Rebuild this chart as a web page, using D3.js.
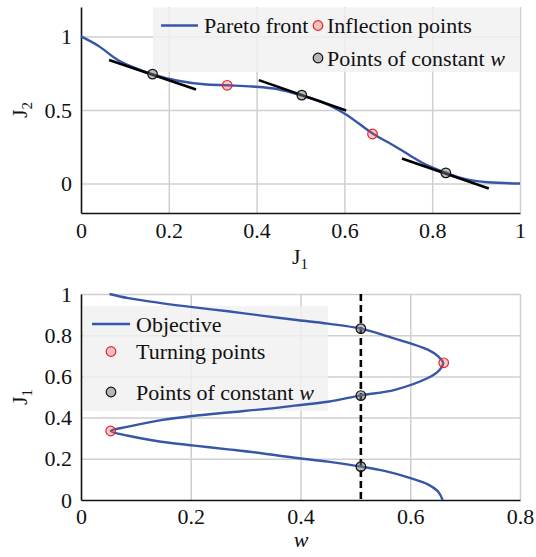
<!DOCTYPE html>
<html><head><meta charset="utf-8">
<script src="https://cdn.jsdelivr.net/npm/d3@7"></script>
<style>
body{margin:0;background:#fff;}
</style></head>
<body><svg id="c" width="536" height="557"></svg>
<script>
// ---- Top panel: Pareto front ----
const frontJ1 = [0, 0.04, 0.084, 0.12, 0.162, 0.221, 0.28, 0.333, 0.39, 0.449, 0.5, 0.563, 0.601, 0.667, 0.715, 0.752, 0.79, 0.833, 0.874, 0.927, 1];
const frontJ2 = [1, 0.935, 0.84, 0.79, 0.744, 0.699, 0.675, 0.668, 0.66, 0.641, 0.601, 0.537, 0.475, 0.335, 0.254, 0.186, 0.122, 0.072, 0.032, 0.009, 0];
const inflJ1 = [0.333, 0.664];
const inflJ2 = [0.668, 0.337];
const constJ1 = [0.163, 0.503, 0.831];
const constJ2 = [0.744, 0.601, 0.073];
const tanX0 = [0.064, 0.405, 0.731];
const tanY0 = [0.84, 0.703, 0.170];
const tanX1 = [0.262, 0.604, 0.929];
const tanY1 = [0.64, 0.497, -0.034];
const topXTicks = [0, 0.2, 0.4, 0.6, 0.8, 1];
const topYTicks = [0, 0.5, 1];

// ---- Bottom panel: objective w vs J1 ----
const objJ1 = [0, 0.040, 0.076, 0.105, 0.141, 0.162, 0.186, 0.205, 0.227, 0.246, 0.264, 0.283, 0.312, 0.335, 0.356, 0.388, 0.409, 0.425, 0.440, 0.458, 0.477, 0.508, 0.535, 0.592, 0.625, 0.665, 0.697, 0.730, 0.794, 0.832, 0.856, 0.875, 0.895, 0.916, 0.935, 0.956, 0.98, 1.0];
const objW  = [0.659, 0.651, 0.632, 0.602, 0.553, 0.510, 0.450, 0.389, 0.329, 0.268, 0.207, 0.146, 0.086, 0.054, 0.086, 0.146, 0.207, 0.268, 0.329, 0.389, 0.450, 0.510, 0.572, 0.632, 0.651, 0.660, 0.651, 0.632, 0.559, 0.510, 0.450, 0.389, 0.329, 0.268, 0.207, 0.146, 0.086, 0.052];
const turnW = [0.054, 0.661];
const turnJ1 = [0.335, 0.666];
const wConst = 0.51;
const wConstJ1 = [0.162, 0.507, 0.832];
const botXTicks = [0, 0.2, 0.4, 0.6, 0.8];
const botYTicks = [0, 0.2, 0.4, 0.6, 0.8, 1];

const BLUE = "#3656a8", GRID = "#cfcfcf", FS = 22, FS_SUB = 15;
const FONT = "Liberation Serif";
const svg = d3.select("#c");

function fmt(v){ return v===0?"0":(v===1?"1":String(v)); }

// ========== TOP PANEL ==========
const x1 = d3.scaleLinear().domain([0,1]).range([81,520]);
const y1 = d3.scaleLinear().domain([-0.2,1.2]).range([213,7]);
const g1 = svg.append("g");
g1.append("g").call(d3.axisBottom(x1).tickValues(topXTicks.filter(d=>d>0)).tickSize(-(213-7)).tickFormat(""))
  .attr("transform","translate(0,213)")
  .call(g=>{g.select(".domain").remove(); g.selectAll("line").attr("stroke",GRID).attr("stroke-width",1.5);});
g1.append("g").call(d3.axisLeft(y1).tickValues(topYTicks).tickSize(-(520-81)).tickFormat(""))
  .attr("transform","translate(81,0)")
  .call(g=>{g.select(".domain").remove(); g.selectAll("line").attr("stroke",GRID).attr("stroke-width",1.5);});
g1.append("rect").attr("x",153).attr("y",7.5).attr("width",367).attr("height",64.5).attr("fill","rgba(240,240,240,0.82)");
g1.append("g").attr("transform","translate(0,213)").call(d3.axisBottom(x1).tickValues(topXTicks).tickSize(0).tickPadding(9).tickFormat(fmt))
  .call(g=>{g.select(".domain").attr("stroke","#111").attr("stroke-width",1.6);});
g1.append("g").attr("transform","translate(81,0)").call(d3.axisLeft(y1).tickValues(topYTicks).tickSize(0).tickPadding(9).tickFormat(fmt))
  .call(g=>{g.select(".domain").attr("stroke","#111").attr("stroke-width",1.6);});
const frontData = frontJ1.map((d,i)=>[d,frontJ2[i]]);
g1.append("path").datum(frontData).attr("fill","none").attr("stroke",BLUE).attr("stroke-width",2.4)
  .attr("d", d3.line().x(d=>x1(d[0])).y(d=>y1(d[1])).curve(d3.curveMonotoneX));
g1.selectAll(".tan").data(tanX0.map((d,i)=>i)).join("line")
  .attr("x1",i=>x1(tanX0[i])).attr("y1",i=>y1(tanY0[i])).attr("x2",i=>x1(tanX1[i])).attr("y2",i=>y1(tanY1[i]))
  .attr("stroke","#000").attr("stroke-width",2.6);
g1.selectAll(".inf").data(inflJ1.map((d,i)=>[d,inflJ2[i]])).join("circle")
  .attr("cx",d=>x1(d[0])).attr("cy",d=>y1(d[1])).attr("r",4.8)
  .attr("fill","rgba(240,80,80,0.3)").attr("stroke","#e8232a").attr("stroke-width",1.2);
g1.selectAll(".cw").data(constJ1.map((d,i)=>[d,constJ2[i]])).join("circle")
  .attr("cx",d=>x1(d[0])).attr("cy",d=>y1(d[1])).attr("r",4.8)
  .attr("fill","rgba(120,120,120,0.5)").attr("stroke","#111").attr("stroke-width",1.2);
g1.append("line").attr("x1",161).attr("x2",198).attr("y1",25.5).attr("y2",25.5).attr("stroke",BLUE).attr("stroke-width",2.4);
g1.append("text").attr("x",204).attr("y",25.5).attr("dy","0.35em").text("Pareto front");
g1.append("circle").attr("cx",318).attr("cy",25.5).attr("r",4.8).attr("fill","rgba(240,80,80,0.3)").attr("stroke","#e8232a").attr("stroke-width",1.2);
g1.append("text").attr("x",327).attr("y",25.5).attr("dy","0.35em").text("Inflection points");
g1.append("circle").attr("cx",318).attr("cy",58).attr("r",4.8).attr("fill","rgba(120,120,120,0.5)").attr("stroke","#111").attr("stroke-width",1.2);
const tl = g1.append("text").attr("x",327).attr("y",58).attr("dy","0.35em");
tl.append("tspan").text("Points of constant ");
tl.append("tspan").attr("font-style","italic").text("w");
const xt1 = g1.append("text").attr("x",300).attr("y",264).attr("text-anchor","middle");
xt1.append("tspan").text("J");
xt1.append("tspan").attr("class","sub").attr("dy",5).text("1");
const yt1 = g1.append("text").attr("transform","translate(27,110) rotate(-90)").attr("text-anchor","middle");
yt1.append("tspan").text("J");
yt1.append("tspan").attr("class","sub").attr("dy",5).text("2");

// ========== BOTTOM PANEL ==========
const x2 = d3.scaleLinear().domain([0,0.8]).range([81,520]);
const y2 = d3.scaleLinear().domain([0,1]).range([500,294]);
const g2 = svg.append("g");
g2.append("g").call(d3.axisBottom(x2).tickValues(botXTicks.filter(d=>d>0)).tickSize(-(500-294)).tickFormat(""))
  .attr("transform","translate(0,500)")
  .call(g=>{g.select(".domain").remove(); g.selectAll("line").attr("stroke",GRID).attr("stroke-width",1.5);});
g2.append("g").call(d3.axisLeft(y2).tickValues(botYTicks.filter(d=>d>0)).tickSize(-(520-81)).tickFormat(""))
  .attr("transform","translate(81,0)")
  .call(g=>{g.select(".domain").remove(); g.selectAll("line").attr("stroke",GRID).attr("stroke-width",1.5);});
g2.append("rect").attr("x",83).attr("y",306).attr("width",245).attr("height",105).attr("fill","rgba(240,240,240,0.82)");
g2.append("g").attr("transform","translate(0,500)").call(d3.axisBottom(x2).tickValues(botXTicks).tickSize(0).tickPadding(8).tickFormat(fmt))
  .call(g=>{g.select(".domain").attr("stroke","#111").attr("stroke-width",1.6);});
g2.append("g").attr("transform","translate(81,0)").call(d3.axisLeft(y2).tickValues(botYTicks).tickSize(0).tickPadding(9).tickFormat(fmt))
  .call(g=>{g.select(".domain").attr("stroke","#111").attr("stroke-width",1.6);});
g2.append("line").attr("x1",x2(wConst)).attr("x2",x2(wConst)).attr("y1",y2(1)).attr("y2",y2(0))
  .attr("stroke","#000").attr("stroke-width",2.6).attr("stroke-dasharray","7,4");
const objData = objJ1.map((d,i)=>[objW[i],d]);
g2.append("path").datum(objData).attr("fill","none").attr("stroke",BLUE).attr("stroke-width",2.4)
  .attr("d", d3.line().x(d=>x2(d[0])).y(d=>y2(d[1])).curve(d3.curveCatmullRom.alpha(0.5)));
g2.selectAll(".tp").data(turnW.map((d,i)=>[d,turnJ1[i]])).join("circle")
  .attr("cx",d=>x2(d[0])).attr("cy",d=>y2(d[1])).attr("r",4.8)
  .attr("fill","rgba(240,80,80,0.3)").attr("stroke","#e8232a").attr("stroke-width",1.2);
g2.selectAll(".cp").data(wConstJ1).join("circle")
  .attr("cx",x2(wConst)).attr("cy",d=>y2(d)).attr("r",4.8)
  .attr("fill","rgba(120,120,120,0.5)").attr("stroke","#111").attr("stroke-width",1.2);
g2.append("line").attr("x1",92).attr("x2",130).attr("y1",324).attr("y2",324).attr("stroke",BLUE).attr("stroke-width",2.4);
g2.append("text").attr("x",136).attr("y",324).attr("dy","0.35em").text("Objective");
g2.append("circle").attr("cx",111).attr("cy",351.5).attr("r",4.8).attr("fill","rgba(240,80,80,0.3)").attr("stroke","#e8232a").attr("stroke-width",1.2);
g2.append("text").attr("x",136).attr("y",351.5).attr("dy","0.35em").text("Turning points");
g2.append("circle").attr("cx",111).attr("cy",392).attr("r",4.8).attr("fill","rgba(120,120,120,0.5)").attr("stroke","#111").attr("stroke-width",1.2);
const tl2 = g2.append("text").attr("x",136).attr("y",392).attr("dy","0.35em");
tl2.append("tspan").text("Points of constant ");
tl2.append("tspan").attr("font-style","italic").text("w");
g2.append("text").attr("x",301).attr("y",547).attr("text-anchor","middle").attr("font-style","italic").text("w");
const yt2 = g2.append("text").attr("transform","translate(27,397) rotate(-90)").attr("text-anchor","middle");
yt2.append("tspan").text("J");
yt2.append("tspan").attr("class","sub").attr("dy",5).text("1");

svg.selectAll("g").attr("font-family",null).attr("font-size",null);
svg.selectAll("text").attr("font-family",FONT).attr("font-size",FS).attr("fill","#111");
svg.selectAll("tspan.sub").attr("font-size",FS_SUB);
</script></body></html>
